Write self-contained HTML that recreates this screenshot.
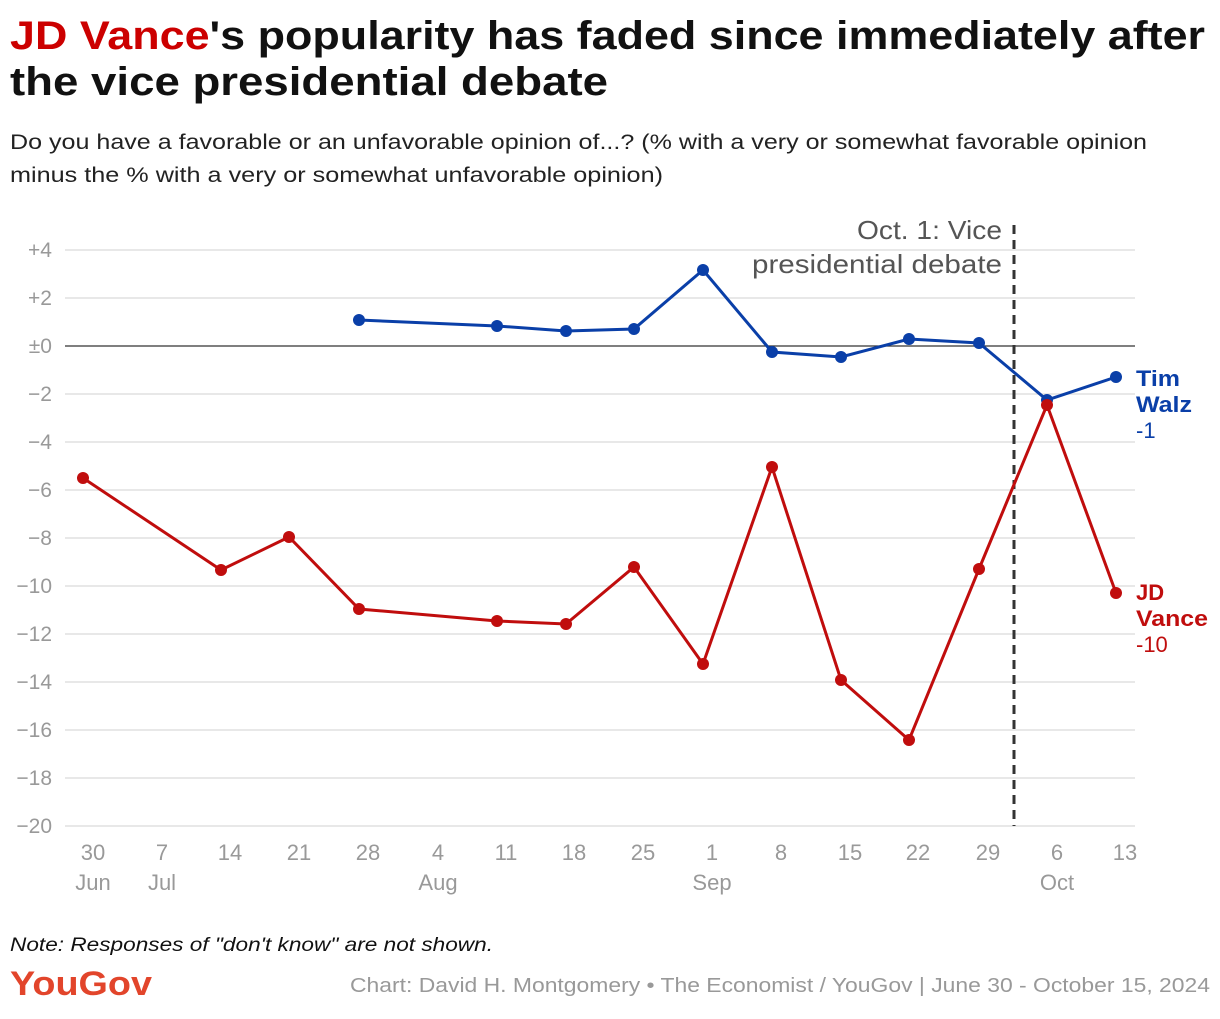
<!DOCTYPE html>
<html><head><meta charset="utf-8"><style>
body{margin:0;background:#fff;width:1220px;height:1014px;overflow:hidden;font-family:"Liberation Sans",sans-serif;}
</style></head><body>
<svg width="1220" height="1014" xmlns="http://www.w3.org/2000/svg" font-family="Liberation Sans, sans-serif">
<text x="10" y="49" font-size="40" font-weight="bold" fill="#111" textLength="1195" lengthAdjust="spacingAndGlyphs"><tspan fill="#c00">JD Vance</tspan>'s popularity has faded since immediately after</text>
<text x="10" y="95" font-size="40" font-weight="bold" fill="#111" textLength="598" lengthAdjust="spacingAndGlyphs">the vice presidential debate</text>
<text x="10" y="149" font-size="21" fill="#222" textLength="1137" lengthAdjust="spacingAndGlyphs">Do you have a favorable or an unfavorable opinion of...? (% with a very or somewhat favorable opinion</text>
<text x="10" y="182" font-size="21" fill="#222" textLength="653" lengthAdjust="spacingAndGlyphs">minus the % with a very or somewhat unfavorable opinion)</text>
<g stroke="#e0e0e0" stroke-width="1.5">
<line x1="65" x2="1135" y1="250" y2="250"/><line x1="65" x2="1135" y1="298" y2="298"/>
<line x1="65" x2="1135" y1="394" y2="394"/><line x1="65" x2="1135" y1="442" y2="442"/>
<line x1="65" x2="1135" y1="490" y2="490"/><line x1="65" x2="1135" y1="538" y2="538"/>
<line x1="65" x2="1135" y1="586" y2="586"/><line x1="65" x2="1135" y1="634" y2="634"/>
<line x1="65" x2="1135" y1="682" y2="682"/><line x1="65" x2="1135" y1="730" y2="730"/>
<line x1="65" x2="1135" y1="778" y2="778"/><line x1="65" x2="1135" y1="826" y2="826"/>
</g>
<line x1="65" x2="1135" y1="346" y2="346" stroke="#333" stroke-width="1.2"/>
<g font-size="21" fill="#999" text-anchor="end">
<text x="52" y="257">+4</text><text x="52" y="305">+2</text><text x="52" y="353">±0</text>
<text x="52" y="401">−2</text><text x="52" y="449">−4</text><text x="52" y="497">−6</text>
<text x="52" y="545">−8</text><text x="52" y="593">−10</text><text x="52" y="641">−12</text>
<text x="52" y="689">−14</text><text x="52" y="737">−16</text><text x="52" y="785">−18</text><text x="52" y="833">−20</text>
</g>
<g font-size="22" fill="#999" text-anchor="middle">
<text x="93" y="860">30</text><text x="162" y="860">7</text><text x="230" y="860">14</text><text x="299" y="860">21</text>
<text x="368" y="860">28</text><text x="438" y="860">4</text><text x="506" y="860">11</text><text x="574" y="860">18</text>
<text x="643" y="860">25</text><text x="712" y="860">1</text><text x="781" y="860">8</text><text x="850" y="860">15</text>
<text x="918" y="860">22</text><text x="988" y="860">29</text><text x="1057" y="860">6</text><text x="1125" y="860">13</text>
<text x="93" y="890">Jun</text><text x="162" y="890">Jul</text><text x="438" y="890">Aug</text><text x="712" y="890">Sep</text><text x="1057" y="890">Oct</text>
</g>
<line x1="1014" x2="1014" y1="225" y2="826" stroke="#333" stroke-width="3" stroke-dasharray="9,6"/>
<text x="857" y="239" font-size="26" fill="#555" textLength="145" lengthAdjust="spacingAndGlyphs">Oct. 1: Vice</text>
<text x="752" y="273" font-size="26" fill="#555" textLength="250" lengthAdjust="spacingAndGlyphs">presidential debate</text>
<polyline fill="none" stroke="#0a3fa8" stroke-width="3" points="359,320 497,326 566,331 634,329 703,270 772,352 841,357 909,339 979,343 1047,400 1116,377"/>
<g fill="#0a3fa8"><circle cx="359" cy="320" r="6"/><circle cx="497" cy="326" r="6"/><circle cx="566" cy="331" r="6"/><circle cx="634" cy="329" r="6"/><circle cx="703" cy="270" r="6"/><circle cx="772" cy="352" r="6"/><circle cx="841" cy="357" r="6"/><circle cx="909" cy="339" r="6"/><circle cx="979" cy="343" r="6"/><circle cx="1047" cy="400" r="6"/><circle cx="1116" cy="377" r="6"/></g>
<polyline fill="none" stroke="#c00d0d" stroke-width="3" points="83,478 221,570 289,537 359,609 497,621 566,624 634,567 703,664 772,467 841,680 909,740 979,569 1047,405 1116,593"/>
<g fill="#c00d0d"><circle cx="83" cy="478" r="6"/><circle cx="221" cy="570" r="6"/><circle cx="289" cy="537" r="6"/><circle cx="359" cy="609" r="6"/><circle cx="497" cy="621" r="6"/><circle cx="566" cy="624" r="6"/><circle cx="634" cy="567" r="6"/><circle cx="703" cy="664" r="6"/><circle cx="772" cy="467" r="6"/><circle cx="841" cy="680" r="6"/><circle cx="909" cy="740" r="6"/><circle cx="979" cy="569" r="6"/><circle cx="1047" cy="405" r="6"/><circle cx="1116" cy="593" r="6"/></g>
<g font-size="22" fill="#0a3fa8"><text x="1136" y="386" font-weight="bold" textLength="44" lengthAdjust="spacingAndGlyphs">Tim</text><text x="1136" y="412" font-weight="bold" textLength="56" lengthAdjust="spacingAndGlyphs">Walz</text><text x="1136" y="438">-1</text></g>
<g font-size="22" fill="#c00d0d"><text x="1136" y="600" font-weight="bold">JD</text><text x="1136" y="626" font-weight="bold" textLength="72" lengthAdjust="spacingAndGlyphs">Vance</text><text x="1136" y="652">-10</text></g>
<text x="10" y="951" font-size="19" font-style="italic" fill="#111" textLength="483" lengthAdjust="spacingAndGlyphs">Note: Responses of "don't know" are not shown.</text>
<text x="10" y="995" font-size="34" font-weight="bold" fill="#e2452b" textLength="142" lengthAdjust="spacingAndGlyphs">YouGov</text>
<text x="350" y="992" font-size="20" fill="#999" textLength="860" lengthAdjust="spacingAndGlyphs">Chart: David H. Montgomery • The Economist / YouGov | June 30 - October 15, 2024</text>
</svg>
</body></html>
